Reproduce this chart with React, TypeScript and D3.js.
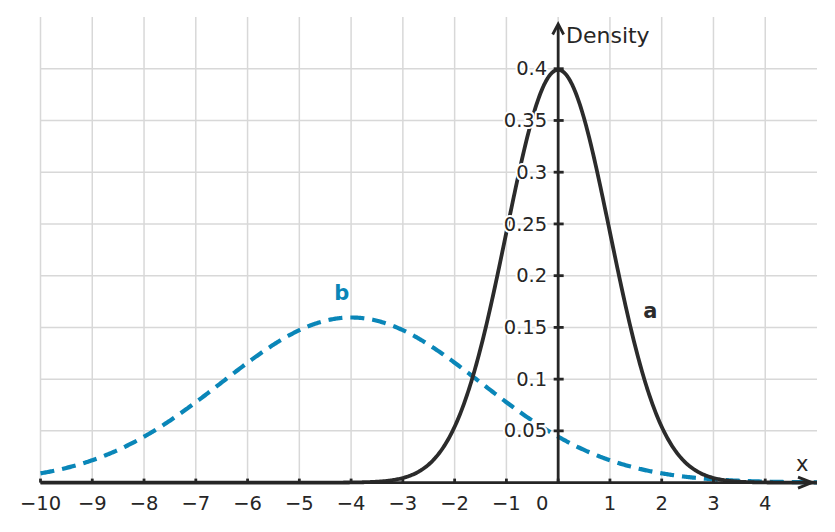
import React, { useEffect, useRef } from "react";
import * as d3 from "d3";

// distributions plotted (peaks at 0 -> 0.4 and -4 -> 0.16)
const seriesNames = ["a", "b"];
const seriesMeans = [0, -4];
const seriesSds = [1, 2.5];
const seriesColors = ["#2b2b2b", "#0a86b8"];

// axis ticks
const xTicks = [-10, -9, -8, -7, -6, -5, -4, -3, -2, -1, 0, 1, 2, 3, 4];
const yTicks = [0.05, 0.1, 0.15, 0.2, 0.25, 0.3, 0.35, 0.4];
const yTickLabels = ["0.05", "0.1", "0.15", "0.2", "0.25", "0.3", "0.35", "0.4"];

// where the curve names sit, in data units
const labelX = [1.78, -4.18];
const labelY = [0.166, 0.184];

const W = 835;
const H = 532;
const FONT = "'DejaVu Sans', sans-serif";

const normalPdf = (x: number, mu: number, sd: number) =>
  Math.exp(-((x - mu) ** 2) / (2 * sd * sd)) / (sd * Math.sqrt(2 * Math.PI));

const App: React.FC = () => {
  const svgRef = useRef<SVGSVGElement | null>(null);

  useEffect(() => {
    if (!svgRef.current) return;
    const svg = d3.select(svgRef.current);
    svg.selectAll("*").remove();

    const x = d3.scaleLinear().domain([-10, 5]).range([40.5, 817]);
    const y = d3.scaleLinear().domain([0, 0.45]).range([482.6, 17]);
    const x0 = x(0);
    const y0 = y(0);

    // grid
    const grid = svg.append("g").attr("stroke", "#d8d8d8").attr("stroke-width", 1.5);
    grid.selectAll("line.v")
      .data(xTicks)
      .enter()
      .append("line")
      .attr("x1", (d) => x(d))
      .attr("x2", (d) => x(d))
      .attr("y1", y(0.45))
      .attr("y2", y0);
    grid.selectAll("line.h")
      .data(yTicks)
      .enter()
      .append("line")
      .attr("x1", x(-10))
      .attr("x2", x(5))
      .attr("y1", (d) => y(d))
      .attr("y2", (d) => y(d));

    // curves
    const xs = d3.range(-10, 5.0001, 0.02);
    const line = d3.line<number>().x((d) => x(d[0])).y((d) => y(d[1]));
    const curves = svg.append("g");
    [1, 0].forEach((i) => {
      const pts = xs.map((v) => [v, normalPdf(v, seriesMeans[i], seriesSds[i])]);
      curves.append("path")
        .datum(pts as any)
        .attr("d", line as any)
        .attr("fill", "none")
        .attr("stroke", seriesColors[i])
        .attr("stroke-width", i === 0 ? 3.8 : 4.2)
        .attr("stroke-dasharray", i === 1 ? "14,8" : null)
        .attr("stroke-linejoin", "round");
    });

    // axes
    const axis = svg.append("g").attr("stroke", "#262626").attr("stroke-width", 2.8).attr("fill", "none");
    axis.append("line").attr("x1", x(-10)).attr("x2", 811).attr("y1", y0).attr("y2", y0);
    axis.append("polyline").attr("points", `${798},${y0 - 5.5} ${812},${y0} ${798},${y0 + 5.5}`);
    axis.append("line").attr("x1", x0).attr("x2", x0).attr("y1", y0).attr("y2", 25);
    axis.append("polyline").attr("points", `${x0 - 5.5},${34.5} ${x0},${24} ${x0 + 5.5},${34.5}`);
    axis.selectAll("line.xt")
      .data(xTicks)
      .enter()
      .append("line")
      .attr("x1", (d) => x(d))
      .attr("x2", (d) => x(d))
      .attr("y1", y0 - 4)
      .attr("y2", y0);
    axis.selectAll("line.yt")
      .data(yTicks)
      .enter()
      .append("line")
      .attr("x1", x0 - 4.5)
      .attr("x2", x0 + 5.5)
      .attr("y1", (d) => y(d))
      .attr("y2", (d) => y(d));

    // tick labels with white halo
    const labels = svg.append("g")
      .style("font-family", FONT)
      .style("font-size", "19.5px")
      .attr("fill", "#262626")
      .attr("stroke", "#ffffff")
      .attr("stroke-width", 4)
      .attr("paint-order", "stroke")
      .attr("stroke-linejoin", "round");
    labels.selectAll("text.xl")
      .data(xTicks)
      .enter()
      .append("text")
      .attr("x", (d) => (d === 0 ? x(d) - 16 : x(d)))
      .attr("y", 510)
      .attr("text-anchor", "middle")
      .text((d) => (d < 0 ? `\u2212${-d}` : `${d}`));
    labels.selectAll("text.yl")
      .data(yTicks)
      .enter()
      .append("text")
      .attr("x", x0 - 11)
      .attr("y", (d) => y(d))
      .attr("dy", "0.34em")
      .attr("text-anchor", "end")
      .text((d, i) => yTickLabels[i]);

    // axis titles
    svg.append("text")
      .attr("x", 566)
      .attr("y", 43)
      .style("font-family", FONT)
      .style("font-size", "22px")
      .attr("fill", "#262626")
      .text("Density");
    svg.append("text")
      .attr("x", 796)
      .attr("y", 471)
      .style("font-family", FONT)
      .style("font-size", "21px")
      .attr("fill", "#262626")
      .text("x");

    // curve names
    svg.selectAll("text.name")
      .data(seriesNames)
      .enter()
      .append("text")
      .attr("x", (d, i) => x(labelX[i]))
      .attr("y", (d, i) => y(labelY[i]))
      .attr("dy", "0.36em")
      .attr("text-anchor", "middle")
      .style("font-family", FONT)
      .style("font-size", "21px")
      .style("font-weight", "bold")
      .attr("fill", (d, i) => seriesColors[i])
      .text((d) => d);
  }, []);

  return (
    <div style={{ position: "fixed", left: 0, top: 0, width: W, height: H, background: "#fff" }}>
      <svg ref={svgRef} width={W} height={H} />
    </div>
  );
};

export default App;
